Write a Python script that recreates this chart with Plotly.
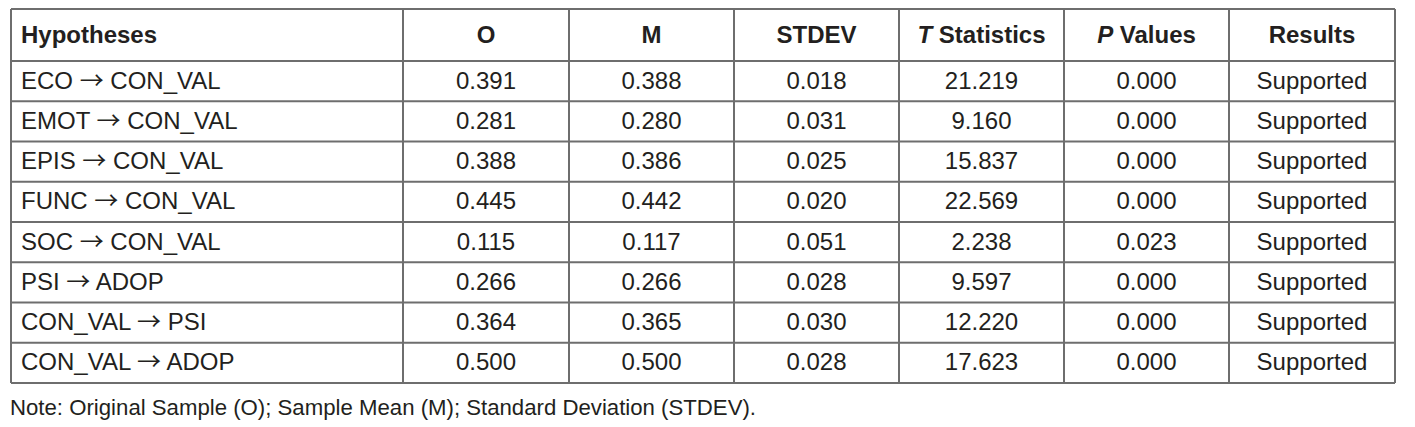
import plotly.graph_objects as go

# ---- data ----
headers = ["<b>Hypotheses</b>", "<b>O</b>", "<b>M</b>", "<b>STDEV</b>",
           "<b><i>T</i> Statistics</b>", "<b><i>P</i> Values</b>", "<b>Results</b>"]
ARROW = "<span style=\"font-family:'Noto Sans CJK JP'\">→</span>"
hypotheses = ["ECO → CON_VAL", "EMOT → CON_VAL", "EPIS → CON_VAL", "FUNC → CON_VAL",
              "SOC → CON_VAL", "PSI → ADOP", "CON_VAL → PSI", "CON_VAL → ADOP"]
original_sample = [0.391, 0.281, 0.388, 0.445, 0.115, 0.266, 0.364, 0.500]
sample_mean = [0.388, 0.280, 0.386, 0.442, 0.117, 0.266, 0.365, 0.500]
stdev = [0.018, 0.031, 0.025, 0.020, 0.051, 0.028, 0.030, 0.028]
t_statistics = [21.219, 9.160, 15.837, 22.569, 2.238, 9.597, 12.220, 17.623]
p_values = [0.000, 0.000, 0.000, 0.000, 0.023, 0.000, 0.000, 0.000]
results = ["Supported", "Supported", "Supported", "Supported",
           "Supported", "Supported", "Supported", "Supported"]
note = "Note: Original Sample (O); Sample Mean (M); Standard Deviation (STDEV)."

# ---- layout geometry (pixels) ----
W, H = 1415, 427
col_edges = [11, 403, 569, 734, 899, 1064, 1229, 1395]
table_top = 9
header_bottom = 61
row_h = 40.25
n_rows = len(hypotheses)
row_edges = [table_top, header_bottom] + [header_bottom + row_h * (k + 1) for k in range(n_rows)]

text_color = "#231f20"
line_color = "#6e6e6e"
font_family = "Liberation Sans, Arial, Helvetica, sans-serif"
fs = 24
dy = 1.5  # small downward nudge so glyphs sit centred like the reference

columns = [
    [h.replace("→", ARROW) for h in hypotheses],
    [f"{v:.3f}" for v in original_sample],
    [f"{v:.3f}" for v in sample_mean],
    [f"{v:.3f}" for v in stdev],
    [f"{v:.3f}" for v in t_statistics],
    [f"{v:.3f}" for v in p_values],
    results,
]

fig = go.Figure()

row_centers = [header_bottom + row_h * (k + 0.5) + dy for k in range(n_rows)]
header_center = (table_top + header_bottom) / 2 + dy

for ci, col in enumerate(columns):
    if ci == 0:
        x = col_edges[0] + 10
        pos = "middle right"
    else:
        x = (col_edges[ci] + col_edges[ci + 1]) / 2
        pos = "middle center"
    fig.add_trace(go.Scatter(
        x=[x] * (n_rows + 1),
        y=[header_center] + row_centers,
        text=[headers[ci]] + list(col),
        mode="text",
        textposition=pos,
        textfont=dict(family=font_family, size=fs, color=text_color),
        hoverinfo="skip",
        showlegend=False,
    ))

# note
fig.add_trace(go.Scatter(
    x=[col_edges[0] - 1], y=[409], text=[note], mode="text",
    textposition="middle right",
    textfont=dict(family=font_family, size=22.2, color=text_color),
    hoverinfo="skip", showlegend=False,
))

# grid lines
shapes = []
for y in row_edges:
    shapes.append(dict(type="line", x0=col_edges[0], x1=col_edges[-1], y0=y, y1=y,
                       xref="x", yref="y", line=dict(color=line_color, width=2)))
for x in col_edges:
    shapes.append(dict(type="line", x0=x, x1=x, y0=row_edges[0], y1=row_edges[-1],
                       xref="x", yref="y", line=dict(color=line_color, width=2)))

fig.update_layout(
    width=W, height=H,
    margin=dict(l=0, r=0, t=0, b=0),
    paper_bgcolor="white", plot_bgcolor="white",
    shapes=shapes,
    xaxis=dict(range=[0, W], visible=False, fixedrange=True),
    yaxis=dict(range=[H, 0], visible=False, fixedrange=True),
    showlegend=False,
)

fig.write_html("out.html", config={"displayModeBar": False, "staticPlot": True},
               post_script="document.body.style.margin='0';document.body.style.overflow='hidden';")
